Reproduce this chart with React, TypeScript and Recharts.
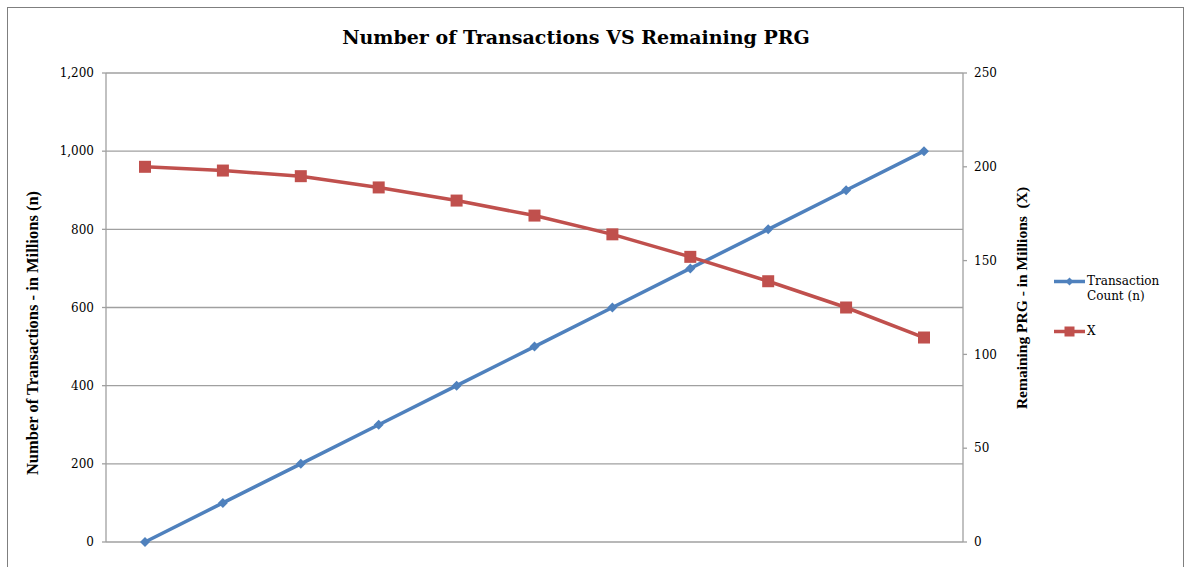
import { LineChart, Line, XAxis, YAxis, CartesianGrid, Legend, Label } from "recharts";

const periods = ["1", "2", "3", "4", "5", "6", "7", "8", "9", "10", "11"];
const transactionCount = [0, 100, 200, 300, 400, 500, 600, 700, 800, 900, 1000];
const remainingPrg = [200, 198, 195, 189, 182, 174, 164, 152, 139, 125, 109];
const leftTicks = [0, 200, 400, 600, 800, 1000, 1200];
const rightTicks = [0, 50, 100, 150, 200, 250];

const BLUE = "#4F81BD";
const RED = "#C0504D";
const GRID = "#A0A0A0";
const SERIF = "'DejaVu Serif', Georgia, serif";
const TIMES = "'Liberation Serif', 'Times New Roman', serif";

const data = periods.map((p, i) => ({
  period: p,
  n: transactionCount[i],
  x: remainingPrg[i],
}));

const Diamond = (props: any) => {
  const { cx, cy, index } = props;
  if (cx == null || cy == null) return <g key={`d${index}`} />;
  const r = 5;
  return (
    <path
      key={`d${index}`}
      d={`M${cx},${cy - r}L${cx + r},${cy}L${cx},${cy + r}L${cx - r},${cy}Z`}
      fill={BLUE}
    />
  );
};

const Square = (props: any) => {
  const { cx, cy, index } = props;
  if (cx == null || cy == null) return <g key={`s${index}`} />;
  const h = 6;
  return <rect key={`s${index}`} x={cx - h} y={cy - h} width={h * 2} height={h * 2} fill={RED} />;
};

const LegendBox = ({ payload }: any) => {
  const items = payload || [];
  return (
    <div style={{ fontFamily: SERIF, fontSize: 12, color: "#000" }}>
      {items.map((it: any, i: number) => (
        <div key={i} style={{ display: "flex", alignItems: "flex-start", marginTop: i === 0 ? 0 : 20 }}>
          <svg width={33} height={15} style={{ flex: "none" }}>
            <line x1={0} y1={7.5} x2={31} y2={7.5} stroke={it.color} strokeWidth={3.5} />
            {i === 0 ? (
              <path d="M15.5,3.5L19.5,7.5L15.5,11.5L11.5,7.5Z" fill={it.color} />
            ) : (
              <rect x={10.5} y={2.5} width={10} height={10} fill={it.color} />
            )}
          </svg>
          <div style={{ lineHeight: "15px", width: 80 }}>{it.value}</div>
        </div>
      ))}
    </div>
  );
};

export default function App() {
  return (
    <div style={{ position: "absolute", left: 7, top: 7, width: 1177, height: 602 }}>
      {/* chart frame */}
      <div
        style={{
          position: "absolute",
          left: 0,
          top: 0,
          width: 1175,
          height: 600,
          borderStyle: "solid",
          borderWidth: 1,
          borderColor: "#7F7F7F",
          background: "#fff",
        }}
      />
      <div
        style={{
          position: "absolute",
          left: 1,
          top: 21,
          width: 1136,
          textAlign: "center",
          fontFamily: SERIF,
          fontWeight: "bold",
          fontSize: 19,
          lineHeight: "19px",
          color: "#000",
        }}
      >
        Number of Transactions VS Remaining PRG
      </div>
      <div style={{ position: "absolute", left: 1, top: 1 }}>
        <LineChart width={1175} height={600} data={data} margin={{ top: 65, right: 102, bottom: 66, left: 0 }}>
          <CartesianGrid yAxisId="left" vertical={false} stroke={GRID} strokeWidth={1.3} />
          <XAxis dataKey="period" hide padding={{ left: 39, right: 39 }} />
          <YAxis
            yAxisId="left"
            domain={[0, 1200]}
            ticks={leftTicks}
            interval={0}
            width={98}
            tickSize={4}
            tickMargin={8}
            stroke={GRID}
            strokeWidth={1.3}
            tickFormatter={(v: number) => v.toLocaleString("en-US")}
            tick={{ fill: "#000", fontSize: 12, fontFamily: SERIF }}
          >
            <Label
              content={(p: any) => {
                const vb = p.viewBox || { x: 0 };
                const cx = vb.x + 24;
                const cy = 325;
                return (
                  <text
                    x={cx}
                    y={cy}
                    transform={`rotate(-90, ${cx}, ${cy})`}
                    textAnchor="middle"
                    dominantBaseline="central"
                    fontFamily={TIMES}
                    fontWeight="bold"
                    fontSize={16.5}
                    fill="#000"
                  >
                    Number of Transactions - in Millions (n)
                  </text>
                );
              }}
            />
          </YAxis>
          <YAxis
            yAxisId="right"
            orientation="right"
            domain={[0, 250]}
            ticks={rightTicks}
            interval={0}
            width={118}
            tickSize={4}
            tickMargin={7}
            stroke={GRID}
            strokeWidth={1.3}
            tick={{ fill: "#000", fontSize: 12, fontFamily: SERIF }}
          >
            <Label
              content={(p: any) => {
                const vb = p.viewBox || { x: 955 };
                const cx = vb.x + 58;
                const cy = 290;
                return (
                  <text
                    x={cx}
                    y={cy}
                    transform={`rotate(-90, ${cx}, ${cy})`}
                    textAnchor="middle"
                    dominantBaseline="central"
                    fontFamily={TIMES}
                    fontWeight="bold"
                    fontSize={15.5}
                    fill="#000"
                    style={{ whiteSpace: "pre" }}
                  >
                    {"Remaining PRG - in Millions  (X)"}
                  </text>
                );
              }}
            />
          </YAxis>
          <Legend
            layout="vertical"
            align="center"
            verticalAlign="middle"
            content={<LegendBox />}
            wrapperStyle={{ left: 1046, top: 266, width: 130, height: 80 }}
          />
          <Line
            yAxisId="left"
            dataKey="n"
            name="Transaction Count (n)"
            stroke={BLUE}
            strokeWidth={3.5}
            dot={Diamond}
            activeDot={false}
            isAnimationActive={false}
          />
          <Line
            yAxisId="right"
            dataKey="x"
            name="X"
            stroke={RED}
            strokeWidth={3.5}
            dot={Square}
            activeDot={false}
            isAnimationActive={false}
          />
        </LineChart>
      </div>
    </div>
  );
}
